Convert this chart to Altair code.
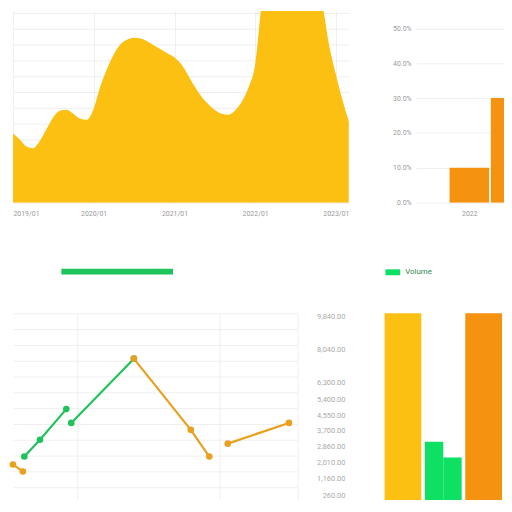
import altair as alt
import pandas as pd

# ---- top-left: area chart (monthly) ----
area_months = pd.date_range("2019-01-01", periods=51, freq="MS")
area_values = [70, 64, 57, 55, 62, 74, 86, 93, 94, 90,
               85, 84, 95, 118, 135, 150, 160, 165, 167, 166,
               163, 159, 155, 151, 147, 140, 130, 118, 108, 100,
               94, 90, 89, 93, 102, 116, 140, 205, 240, 245,
               240, 238, 235, 230, 225, 215, 200, 160, 130, 103,
               82]

# ---- top-right: share bars ----
share_years = [2022, 2023]
share_values = [0.10, 0.30]

# ---- bottom-left: line segments ----
line_x = [0.8, 1.9, 3.75, 4.1, 8.5, 0.0, 0.7, 8.5, 12.5, 13.8, 15.1, 19.4]
line_y = [23.3, 32.3, 48.7, 41.3, 75.7, 19.0, 15.3, 75.7, 37.6, 23.3, 30.2, 41.3]
line_series = ["Series A", "Series A", "Series A", "Series A", "Series A",
               "Series B", "Series B", "Series B", "Series B", "Series B",
               "Series B", "Series B"]
line_segment = [1, 1, 1, 2, 2, 3, 3, 4, 4, 4, 5, 5]

# ---- bottom-right: bars ----
br_cats = ["Q1", "Q2", "Q2", "Q3"]
br_sub = ["a", "a", "b", "a"]
br_values = [10000, 3120, 2280, 10000]
br_kinds = ["Plan", "Volume", "Volume", "Actual"]

YELLOW = "#FBC012"
GREEN = "#0DE063"
ORANGE = "#F5920F"
LABEL = "#9a9a9a"
GRID = "#efefef"

df_area = pd.DataFrame({"month": area_months, "value": area_values})
df_share = pd.DataFrame({"year": share_years, "share": share_values})
df_line = pd.DataFrame({"x": line_x, "y": line_y, "series": line_series, "seg": line_segment})
df_br = pd.DataFrame({"cat": br_cats, "sub": br_sub, "val": br_values, "kind": br_kinds})

area = alt.Chart(df_area).mark_area(color=YELLOW, interpolate="monotone", clip=True).encode(
    x=alt.X("month:T",
            scale=alt.Scale(domain=["2019-01-01", "2023-03-01"], nice=False),
            axis=alt.Axis(title=None, format="%Y/%m", tickCount={"interval": "year", "step": 1},
                          labelFlush=True, domain=False, ticks=False, labelFontSize=7,
                          labelColor=LABEL, labelPadding=7, gridColor=GRID)),
    y=alt.Y("value:Q", scale=alt.Scale(domain=[0, 194], nice=False),
            axis=alt.Axis(title=None, values=list(range(0, 194, 16)), labels=False, ticks=False,
                          domain=False, gridColor=GRID, labelPadding=0, minExtent=0, maxExtent=0)),
).properties(width=340, height=194)

share = alt.Chart(df_share).mark_bar(color=ORANGE, clip=True, size=40).encode(
    x=alt.X("year:Q", scale=alt.Scale(domain=[2020.83, 2022.72], nice=False, zero=False),
            axis=alt.Axis(title=None, values=[2022], format="d", labelAngle=0, domain=False,
                          ticks=False, labelFontSize=7, labelColor=LABEL, labelPadding=7, grid=False)),
    y=alt.Y("share:Q", scale=alt.Scale(domain=[0, 0.55], nice=False),
            axis=alt.Axis(title=None, values=[0, 0.1, 0.2, 0.3, 0.4, 0.5], format=".1%",
                          domain=False, ticks=False, labelFontSize=7, labelColor=LABEL,
                          labelPadding=5, gridColor=GRID)),
).properties(width=89, height=194)

line = alt.Chart(df_line).mark_line(strokeWidth=2.2, point=alt.OverlayMarkDef(size=45, filled=True)).encode(
    x=alt.X("x:Q", scale=alt.Scale(domain=[0, 20], nice=False),
            axis=alt.Axis(title=None, values=[4.5, 14.5, 20], labels=False, ticks=False, domain=False,
                          gridColor=GRID)),
    y=alt.Y("y:Q", scale=alt.Scale(domain=[0, 100], nice=False),
            axis=alt.Axis(title=None,
                          values=[100, 91.5, 83.1, 74.6, 66.1, 57.7, 49.2, 40.7, 32.3, 23.8, 15.3, 6.9],
                          labels=False, ticks=False, domain=False, gridColor=GRID,
                          labelPadding=0, minExtent=0, maxExtent=0)),
    color=alt.Color("series:N",
                    scale=alt.Scale(domain=["Series A", "Series B"], range=["#1FC35C", "#E9A01E"]),
                    legend=alt.Legend(values=["Series A"], orient="none", legendX=46, legendY=-48,
                                      symbolType="M-1,-0.95L1,-0.95", symbolSize=12769,
                                      symbolStrokeWidth=6, labelExpr="''", title=None, padding=0)),
    detail="seg:N",
).properties(width=288, height=189)

br_x = alt.X("cat:N", scale=alt.Scale(domain=["Q1", "Q2", "Q3"], paddingInner=0.09,
                                      paddingOuter=0.43, align=1), axis=None)
br_y = alt.Y("val:Q", scale=alt.Scale(domain=[0, 10000], nice=False),
             axis=alt.Axis(title=None,
                           values=[9840, 8040, 6300, 5400, 4550, 3700, 2860, 2010, 1160, 260],
                           format=",.2f", domain=False, ticks=False, labelFontSize=7.5,
                           labelColor="#aaaaaa", labelPadding=5, grid=False))
br_color = alt.Color("kind:N",
                     scale=alt.Scale(domain=["Plan", "Volume", "Actual"], range=[YELLOW, GREEN, ORANGE]),
                     legend=alt.Legend(values=["Volume"], orient="none", legendX=35, legendY=-50,
                                       symbolType="M-1,-0.4L1,-0.4L1,0.4L-1,0.4Z", symbolSize=225,
                                       labelFontSize=8, labelColor="#2E8B4F", title=None, padding=0))

br_base = alt.Chart(df_br)
br_main = br_base.transform_filter(alt.datum.kind != "Volume").mark_bar().encode(
    x=br_x, y=br_y, color=br_color)
br_green = br_base.transform_filter(alt.datum.kind == "Volume").mark_bar().encode(
    x=br_x, y=br_y, color=br_color,
    xOffset=alt.XOffset("sub:N", scale=alt.Scale(paddingInner=0, paddingOuter=0)))
bars = alt.layer(br_main, br_green).properties(width=154, height=189)

top = alt.hconcat(area, share, spacing=43).resolve_scale(color="independent")
bottom = alt.hconcat(line, bars, spacing=19).resolve_scale(color="independent").resolve_legend(
    color="independent")

chart = alt.vconcat(top, bottom, spacing=48).resolve_scale(color="independent").resolve_legend(
    color="independent").properties(padding=0).configure(font="Roboto").configure_view(stroke=None)

chart.save("out.html", embed_options={"renderer": "svg", "actions": False})
